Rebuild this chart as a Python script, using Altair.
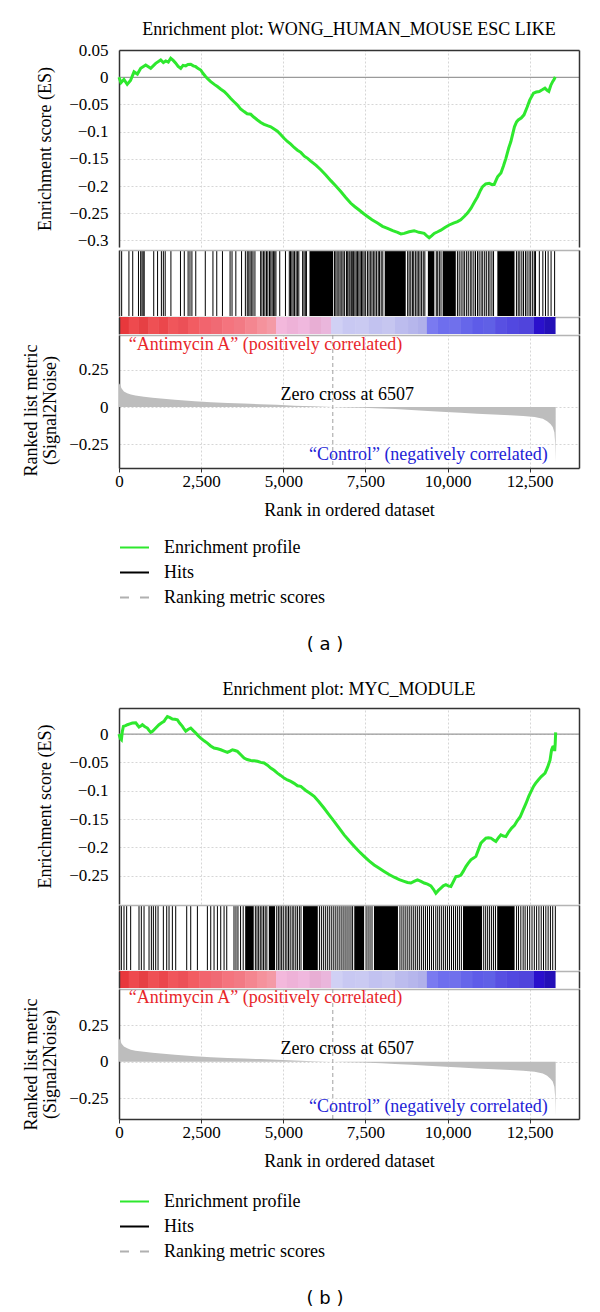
import altair as alt
import pandas as pd

SERIF = "Liberation Serif"
SANS = "DejaVu Sans"
W = 460
GREEN = "#2ee82e"
FRAME = "#333333"
SEP = "#b4b4b4"
GRID = "#d6d6d6"

X_DOMAIN = [0, 14000]
X_TICKS = [0, 2500, 5000, 7500, 10000, 12500]
METRIC_TICKS = [0.25, 0, -0.25]
ZERO_CROSS = 6507

# ---------------- panel (a) ----------------
title_a = "Enrichment plot: WONG_HUMAN_MOUSE ESC LIKE"
es_a_rank = [0, 60, 150, 250, 350, 457, 560, 661, 813, 965, 1117, 1270, 1350, 1422, 1500, 1574, 1650, 1727,
             1800, 1879, 1950, 2031, 2100, 2183, 2260, 2336, 2410, 2488, 2560, 2640, 2720, 2792, 2900, 2995,
             3100, 3198, 3300, 3401, 3500, 3604, 3700, 3807, 3900, 4010, 4100, 4213, 4315, 4415, 4518, 4618,
             4720, 4821, 4920, 5024, 5125, 5228, 5330, 5432, 5533, 5640, 5740, 5837, 6000, 6141, 6300, 6446,
             6600, 6750, 6900, 7055, 7180, 7308, 7430, 7562, 7700, 7867, 8020, 8172, 8330, 8477, 8580, 8680,
             8830, 8983, 9130, 9288, 9360, 9440, 9520, 9593, 9700, 9796, 9920, 10049, 10180, 10303, 10400,
             10506, 10600, 10709, 10810, 10912, 11000, 11066, 11160, 11267, 11340, 11419, 11470, 11522, 11624,
             11700, 11775, 11861, 11927, 12035, 12100, 12151, 12240, 12326, 12420, 12500, 12616, 12700, 12790,
             12880, 12964, 13030, 13081, 13140, 13197, 13240, 13278]
es_a_score = [0.0, -0.010, -0.004, -0.013, -0.006, 0.010, 0.006, 0.0165, 0.0226, 0.0165, 0.0257, 0.0318, 0.027,
              0.030, 0.028, 0.035, 0.031, 0.026, 0.020, 0.0165, 0.022, 0.021, 0.0235, 0.024, 0.021, 0.0195, 0.016,
              0.0134, 0.007, 0.001, -0.004, -0.008, -0.013, -0.017, -0.022, -0.026, -0.032, -0.039, -0.045, -0.051,
              -0.058, -0.063, -0.067, -0.068, -0.073, -0.0785, -0.083, -0.0865, -0.089, -0.091, -0.095, -0.099,
              -0.105, -0.112, -0.118, -0.123, -0.129, -0.134, -0.138, -0.145, -0.149, -0.154, -0.162, -0.170,
              -0.180, -0.190, -0.200, -0.210, -0.221, -0.2316, -0.238, -0.244, -0.250, -0.256, -0.262, -0.268,
              -0.274, -0.2776, -0.282, -0.285, -0.288, -0.287, -0.284, -0.282, -0.285, -0.287, -0.291, -0.295,
              -0.291, -0.287, -0.284, -0.281, -0.276, -0.2715, -0.268, -0.2654, -0.262, -0.256, -0.250, -0.241,
              -0.230, -0.2195, -0.208, -0.201, -0.196, -0.195, -0.197, -0.197, -0.190, -0.183, -0.176, -0.163,
              -0.149, -0.130, -0.118, -0.091, -0.082, -0.0785, -0.075, -0.069, -0.055, -0.042, -0.029, -0.027,
              -0.026, -0.023, -0.020, -0.024, -0.026, -0.015, -0.008, -0.004, 0.001]
es_a_domain = [-0.312, 0.0502]
es_a_ticks = [0.05, 0, -0.05, -0.1, -0.15, -0.2, -0.25, -0.3]
hits_a_single = [81, 302, 418, 593, 660, 700, 735, 767, 1057, 1174, 1290, 1350, 1406, 1580, 1871, 1987, 2103,
                 2160, 2219, 2336, 2626, 2859, 2975, 3149, 3381, 3440, 3556, 3730, 3846,
                 3904, 3950, 3990, 4040, 4079, 4137,
                 4311, 4350, 4400, 4440, 4490, 4530, 4580, 4620, 4660, 4700, 4740, 4776, 4892, 5066,
                 5183, 5220, 5260, 5300, 5340, 5390, 5430, 5473, 5589, 5630, 5670, 5705,
                 6560, 6600, 6640, 6690, 6730, 6780, 6820, 6867,
                 6925, 6960, 7000, 7030, 7070, 7100, 7140, 7180, 7220, 7260, 7300, 7340, 7380, 7420, 7460, 7507,
                 7565, 7610, 7660, 7700, 7750, 7790, 7840, 7890, 7930, 7980, 8029,
                 8785, 8830, 8880, 8930, 8970, 9020, 9070, 9110, 9160, 9210, 9260, 9308,
                 9656, 9700, 9750, 9800, 10300, 10353,
                 10412, 10470, 10520, 10580, 10630, 10690, 10740, 10800, 10850, 10910, 10960, 11020, 11070,
                 11130, 11180, 11240, 11290, 11350, 11399,
                 12096, 12150, 12200, 12260, 12310, 12370, 12420, 12480, 12530, 12590, 12640, 12677,
                 12793, 12900, 12980, 13060, 13150, 13258]
hits_a_block_start = [5798, 8087, 9401, 9850, 11515]
hits_a_block_end = [6519, 8726, 9598, 10250, 12038]
metric_a_domain = [-0.41, 0.484]
annot_a_value = [0.42, 0.083, -0.32]

# ---------------- panel (b) ----------------
title_b = "Enrichment plot: MYC_MODULE"
es_b_rank = [0, 40, 73, 100, 134, 200, 256, 330, 408, 510, 560, 610, 660, 712, 790, 864, 920, 965, 1020, 1067,
             1140, 1218, 1300, 1370, 1420, 1473, 1550, 1625, 1700, 1777, 1850, 1930, 1980, 2031, 2100, 2183,
             2260, 2336, 2410, 2488, 2590, 2690, 2790, 2893, 3000, 3097, 3200, 3300, 3380, 3452, 3530, 3604,
             3700, 3807, 3900, 4010, 4110, 4213, 4315, 4415, 4518, 4618, 4720, 4821, 4920, 5024, 5125, 5228,
             5330, 5432, 5533, 5685, 5800, 5938, 6090, 6243, 6400, 6547, 6700, 6852, 7000, 7156, 7300, 7461,
             7610, 7765, 7920, 8070, 8220, 8374, 8530, 8679, 8780, 8882, 8980, 9085, 9190, 9288, 9390, 9492,
             9570, 9644, 9720, 9796, 9870, 9948, 10020, 10101, 10180, 10253, 10330, 10406, 10480, 10557, 10630,
             10709, 10790, 10862, 10940, 11014, 11090, 11166, 11240, 11318, 11400, 11471, 11550, 11623, 11700,
             11775, 11863, 11950, 12037, 12120, 12211, 12300, 12386, 12470, 12560, 12620, 12677, 12760, 12851,
             12910, 12967, 13048, 13118, 13165, 13200, 13234, 13260, 13275, 13290]
es_b_score = [0.0, -0.008, -0.010, 0.004, 0.0136, 0.015, 0.0165, 0.018, 0.0194, 0.020, 0.016, 0.0124, 0.014,
              0.0165, 0.013, 0.0106, 0.006, 0.003, 0.005, 0.0077, 0.012, 0.0165, 0.020, 0.0224, 0.027, 0.031,
              0.029, 0.0265, 0.026, 0.025, 0.019, 0.0136, 0.009, 0.005, 0.008, 0.0106, 0.006, 0.002, -0.003,
              -0.007, -0.012, -0.016, -0.021, -0.0247, -0.026, -0.0277, -0.030, -0.0324, -0.030, -0.0277, -0.029,
              -0.0306, -0.036, -0.0424, -0.045, -0.0465, -0.047, -0.048, -0.050, -0.051, -0.055, -0.060, -0.064,
              -0.069, -0.073, -0.0777, -0.081, -0.0836, -0.087, -0.0913, -0.0924, -0.0995, -0.104, -0.110, -0.120,
              -0.131, -0.143, -0.154, -0.166, -0.178, -0.188, -0.198, -0.207, -0.216, -0.224, -0.231, -0.237,
              -0.2426, -0.248, -0.2527, -0.257, -0.260, -0.262, -0.263, -0.260, -0.2574, -0.260, -0.263, -0.265,
              -0.268, -0.274, -0.281, -0.276, -0.272, -0.268, -0.266, -0.268, -0.269, -0.260, -0.2515, -0.251,
              -0.249, -0.242, -0.234, -0.228, -0.222, -0.219, -0.216, -0.204, -0.1926, -0.188, -0.1837, -0.183,
              -0.1837, -0.187, -0.1896, -0.183, -0.178, -0.180, -0.181, -0.1726, -0.166, -0.161, -0.153, -0.146,
              -0.134, -0.1225, -0.110, -0.099, -0.092, -0.087, -0.081, -0.075, -0.072, -0.069, -0.058, -0.046,
              -0.028, -0.023, -0.0224, -0.030, -0.018, 0.003]
es_b_domain = [-0.30, 0.046]
es_b_ticks = [0, -0.05, -0.1, -0.15, -0.2, -0.25]
hits_b_single = [72, 152, 233, 355, 609, 680, 762, 914, 985, 1046, 1117, 1188, 1350, 1452, 1523, 1624, 1726,
                 2061, 2183, 2386, 2690, 2792, 2893, 2995, 3096, 3198, 3279,
                 3500, 3560, 3620, 3700, 3780,
                 4150, 4200, 4250, 4300, 4350, 4400, 4450, 4500, 4800, 4850, 4900, 4950, 5000,
                 5060, 5110, 5160, 5210, 5270, 5320, 5380, 5430, 5490, 5540,
                 6100, 6160, 6220, 6280, 6340, 6400, 6460, 6520, 6580, 6640, 6700, 6760, 6820, 6880, 6940, 7000,
                 7060, 7110, 7520, 7580, 7640, 7700,
                 8550, 8610, 8670, 8730, 8790, 8850, 8910, 8970, 9030, 9090, 9150, 9210, 9270, 9330, 9390,
                 9450, 9510, 9570, 9640, 9700, 9760, 9820, 9880, 9940, 10000, 10060, 10120, 10180, 10240, 10300,
                 10360, 10420, 11100, 11160, 11220, 11280, 11340, 11400, 11460,
                 12100, 12160, 12230, 12300, 12360, 12430, 12500, 12570, 12640, 12710, 12780, 12850, 12920,
                 12990, 13060, 13130, 13200, 13280]
hits_b_block_start = [3840, 4560, 5600, 7160, 7760, 10470, 11510]
hits_b_block_end = [4100, 4750, 6050, 7460, 8490, 11050, 12040]
metric_b_domain = [-0.392, 0.50]
annot_b_value = [0.438, 0.089, -0.307]

# ---------------- shared ranked list ----------------
metric_rank = [0, 30, 80, 150, 250, 360, 500, 760, 1020, 1270, 1700, 2300, 2800, 3300, 3800, 4300, 4800, 5330,
               5900, 6507, 7000, 7400, 8000, 8400, 8900, 9400, 9950, 10400, 10900, 11400, 11900, 12300, 12650,
               12900, 13030, 13130, 13200, 13250, 13275, 13290]
metric_value = [0.16, 0.15, 0.125, 0.105, 0.093, 0.084, 0.077, 0.069, 0.063, 0.057, 0.048, 0.038, 0.032, 0.027,
                0.023, 0.019, 0.015, 0.009, 0.005, 0.0, -0.003, -0.005, -0.010, -0.014, -0.020, -0.027, -0.033,
                -0.039, -0.045, -0.051, -0.056, -0.061, -0.067, -0.079, -0.095, -0.115, -0.135, -0.17, -0.24, -0.37]
bar_edges = [0, 300, 600, 900, 1200, 1500, 1800, 2100, 2450, 2800, 3150, 3500, 3850, 4200, 4500, 4780, 5100,
             5450, 5800, 6150, 6460, 6800, 7200, 7600, 8000, 8400, 8800, 9100, 9370, 9700, 10050, 10400, 10750,
             11100, 11450, 11800, 12150, 12630, 12950, 13280]
bar_colors = ["#e8383c", "#ee4a4e", "#e64044", "#ef5054", "#eb474c", "#f0565b", "#ec5057", "#f25c62",
              "#f2646e", "#f06a74", "#f4747e", "#f27a84", "#f48690", "#f5929c", "#f49aa6",
              "#f3b8dc", "#eeb2d8", "#f0b8de", "#e8aed4", "#eab6dc",
              "#d0d0f4", "#c8c8f2", "#cacaf2", "#c2c2f0", "#c6c6f0", "#bcbcee", "#b6b6ec", "#b0b0ea",
              "#7a7af0", "#6e6eee", "#7070ec", "#6666ea", "#5e5ce8", "#6060e6", "#5850e2", "#5248e0", "#5044dc",
              "#2a10cc", "#2410b8"]

annot_text = ["\u201cAntimycin A\u201d (positively correlated)", "Zero cross at 6507",
              "\u201cControl\u201d (negatively correlated)"]
annot_rank = [300, 6950, 13050]
annot_color = ["#e8262a", "#000000", "#2323d6"]

legend_labels = ["Enrichment profile", "Hits", "Ranking metric scores"]
legend_colors = [GREEN, "#000000", "#b0b0b0"]
legend_dashes = [[1, 0], [1, 0], [9, 11]]


def xscale():
    return alt.Scale(domain=X_DOMAIN, nice=False, zero=False)


def frame_y(orient):
    return alt.Axis(orient=orient, labels=False, ticks=False, grid=False, title=None,
                    domainColor=FRAME, domainWidth=1.5, zindex=1)


def es_chart(title, ranks, scores, dom, ticks, h, title_offset):
    df = pd.DataFrame({"rank": ranks, "es": scores})
    ys = alt.Scale(domain=dom, nice=False, zero=False)
    top_ax = alt.Axis(orient="top", values=X_TICKS, labels=False, ticks=False, title=None, grid=True,
                      gridColor=GRID, gridDash=[2, 2], domainColor=FRAME, domainWidth=1.5)
    left_ax = alt.Axis(title="Enrichment score (ES)", values=ticks, labelExpr="format(datum.value, '~g')",
                       ticks=False, tickSize=0, labelPadding=11, titlePadding=14, grid=True, gridColor=GRID,
                       gridDash=[2, 2], domainColor=FRAME, domainWidth=1.5)
    zero = alt.Chart(pd.DataFrame({"es": [0.0]})).mark_rule(color="#9a9a9a", strokeWidth=1.3).encode(
        y=alt.Y("es:Q", scale=ys, axis=frame_y("right")))
    line = alt.Chart(df).mark_line(color=GREEN, strokeWidth=3).encode(
        x=alt.X("rank:Q", scale=xscale(), axis=top_ax),
        y=alt.Y("es:Q", scale=ys, axis=left_ax))
    return alt.layer(zero, line).resolve_scale(y="independent").properties(
        width=W, height=h,
        title=alt.TitleParams(title, font=SERIF, fontSize=18, fontWeight="normal", color="black",
                              anchor="middle", frame="group", offset=title_offset))


def hits_chart(singles, bstart, bend, h):
    hy = alt.Scale(domain=[0, 1], nice=False, zero=False)
    top = alt.Axis(orient="top", labels=False, ticks=False, grid=False, title=None,
                   domainColor=SEP, domainWidth=1.5, zindex=1)
    lines = alt.Chart(pd.DataFrame({"rank": singles})).mark_rule(color="black", strokeWidth=1).encode(
        x=alt.X("rank:Q", scale=xscale(), axis=top),
        y=alt.YDatum(0, scale=hy, axis=frame_y("left")), y2=alt.Y2Datum(1))
    blocks = alt.Chart(pd.DataFrame({"start": bstart, "end": bend})).mark_rect(color="black").encode(
        x=alt.X("start:Q", scale=xscale(), axis=top), x2="end:Q",
        y=alt.YDatum(0, scale=hy, axis=frame_y("right")), y2=alt.Y2Datum(1))
    return alt.layer(lines, blocks).resolve_scale(y="independent").properties(width=W, height=h)


def bar_chart(h):
    hy = alt.Scale(domain=[0, 1], nice=False, zero=False)
    top = alt.Axis(orient="top", labels=False, ticks=False, grid=False, title=None,
                   domainColor=SEP, domainWidth=1.5, zindex=0)
    df = pd.DataFrame({"start": bar_edges[:-1], "end": bar_edges[1:], "color": bar_colors})
    base = alt.Chart(df).mark_rect().encode(
        x=alt.X("start:Q", scale=xscale(), axis=top), x2="end:Q",
        color=alt.Color("color:N", scale=None))
    left = base.encode(y=alt.YDatum(0, scale=hy, axis=frame_y("left")), y2=alt.Y2Datum(1))
    right = base.encode(y=alt.YDatum(0, scale=hy, axis=frame_y("right")), y2=alt.Y2Datum(1))
    return alt.layer(left, right).resolve_scale(y="independent").properties(width=W, height=h)


def metric_chart(dom, h, annot_vals, legend_y):
    ys = alt.Scale(domain=dom, nice=False, zero=False)
    df = pd.DataFrame({"rank": metric_rank, "value": metric_value})
    top_ax = alt.Axis(orient="top", values=X_TICKS, labels=False, ticks=False, title=None, grid=True,
                      gridColor=GRID, gridDash=[2, 2], domainColor=SEP, domainWidth=1.5, zindex=0)
    left_ax = alt.Axis(title=["Ranked list metric", "(Signal2Noise)"], values=METRIC_TICKS,
                       labelExpr="format(datum.value, '~g')",
                       ticks=False, tickSize=0, labelPadding=11, titlePadding=9, titleLineHeight=19,
                       titleY=75, grid=True, gridColor=GRID, gridDash=[2, 2],
                       domainColor=FRAME, domainWidth=1.5, zindex=0)
    bottom_ax = alt.Axis(orient="bottom", values=X_TICKS, labelExpr="format(datum.value, ',')",
                         title="Rank in ordered dataset",
                         tickSize=4, tickColor=FRAME, labelPadding=1, titlePadding=12, grid=False,
                         labelFlush=False, domainColor=FRAME, domainWidth=1.5, zindex=1)
    area = alt.Chart(df).mark_area(color="#bdbdbd").encode(
        x=alt.X("rank:Q", scale=xscale(), axis=top_ax),
        y=alt.Y("value:Q", scale=ys, axis=left_ax), y2=alt.Y2Datum(0))
    zc = alt.Chart(pd.DataFrame({"rank": [ZERO_CROSS]})).mark_rule(
        color="#a0a0a0", strokeDash=[4, 3], strokeWidth=1).encode(
        x=alt.X("rank:Q", scale=xscale(), axis=None))

    def text_layer(i, align, xaxis, yaxis):
        d = pd.DataFrame({"t": [annot_text[i]], "rank": [annot_rank[i]], "value": [annot_vals[i]]})
        return alt.Chart(d).mark_text(align=align, baseline="middle", font=SERIF, fontSize=18,
                                      color=annot_color[i]).encode(
            x=alt.X("rank:Q", scale=xscale(), axis=xaxis),
            y=alt.Y("value:Q", scale=ys, axis=yaxis), text="t:N")

    t0 = text_layer(0, "left", None, None)
    t1 = text_layer(1, "center", None, None)
    t2 = text_layer(2, "right", bottom_ax, frame_y("right"))

    leg = alt.Legend(title=None, orient="none", legendX=0, legendY=legend_y, direction="vertical",
                     symbolType="stroke", symbolSize=841, symbolStrokeWidth=2, labelFont=SERIF,
                     labelFontSize=18, labelColor="black", labelOffset=14, labelLimit=400,
                     rowPadding=-12, padding=0)
    legend_layer = alt.Chart(pd.DataFrame({"series": legend_labels})).mark_line(strokeWidth=2).encode(
        x=alt.XDatum(0, scale=xscale(), axis=None),
        y=alt.YDatum(0, scale=ys, axis=None),
        color=alt.Color("series:N", scale=alt.Scale(domain=legend_labels, range=legend_colors), legend=leg),
        strokeDash=alt.StrokeDash("series:N", scale=alt.Scale(domain=legend_labels, range=legend_dashes),
                                  legend=leg))
    return alt.layer(area, zc, t0, t1, t2, legend_layer).resolve_scale(y="independent").resolve_axis(
        x="independent").properties(width=W, height=h)


def panel(title, es_rank, es_score, es_dom, es_ticks, hs, hbs, hbe, m_dom, annot_vals, heights, label,
          legend_y, title_offset):
    h_es, h_hits, h_bar, h_m = heights
    return alt.vconcat(
        es_chart(title, es_rank, es_score, es_dom, es_ticks, h_es, title_offset),
        hits_chart(hs, hbs, hbe, h_hits),
        bar_chart(h_bar),
        metric_chart(m_dom, h_m, annot_vals, legend_y),
        spacing=0,
    ).resolve_scale(color="independent", strokeDash="independent").properties(
        title=alt.TitleParams(label, orient="bottom", anchor="middle", frame="group", font=SANS,
                              fontSize=18, fontWeight="normal", color="black", offset=29, dx=206))


pa = panel(title_a, es_a_rank, es_a_score, es_a_domain, es_a_ticks, hits_a_single, hits_a_block_start,
           hits_a_block_end, metric_a_domain, annot_a_value, (197, 66, 17, 133), "( a )", 197, 2)
pb = panel(title_b, es_b_rank, es_b_score, es_b_domain, es_b_ticks, hits_b_single, hits_b_block_start,
           hits_b_block_end, metric_b_domain, annot_b_value, (196, 65, 17, 130), "( b )", 197, 9)

chart = alt.vconcat(pa, pb, spacing=27).resolve_scale(
    color="independent", strokeDash="independent").properties(
    padding={"left": 14, "top": 13, "right": 5, "bottom": 0}
).configure_view(strokeWidth=0).configure_axis(
    labelFont=SERIF, titleFont=SERIF, labelFontSize=17, titleFontSize=18, titleFontWeight="normal",
    labelColor="black", titleColor="black")

chart.save("out.html", embed_options={"renderer": "svg", "actions": False})
